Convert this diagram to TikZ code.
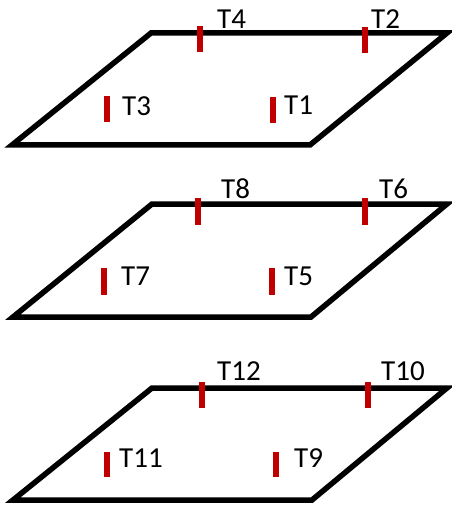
\documentclass[tikz,border=0pt]{standalone}
\usepackage{fontspec}
\setmainfont{Carlito}
\definecolor{tickred}{RGB}{192,0,0}
\begin{document}
\begin{tikzpicture}[x=1bp,y=-1bp,
  plate/.style={draw=black,line width=5.5bp,line join=miter},
  sensor/.style={draw=tickred,line width=5.5bp},
  lbl/.style={anchor=west,inner sep=0pt,font=\fontsize{29bp}{33bp}\selectfont}]
\useasboundingbox (0,0) rectangle (452,512);
% panel 1
\coordinate (a1) at (151,33); \coordinate (b1) at (447,33);
\coordinate (c1) at (310,145); \coordinate (d1) at (12,145);
\draw[plate] (a1) -- (b1) -- (c1) -- (d1) -- cycle;
\coordinate (t4a) at (200,26); \coordinate (t4b) at (200,52);
\coordinate (t2a) at (365,27); \coordinate (t2b) at (365,53);
\coordinate (t3a) at (107,96); \coordinate (t3b) at (107,122);
\coordinate (t1a) at (273,97); \coordinate (t1b) at (273,123);
\draw[sensor] (t4a) -- (t4b);
\draw[sensor] (t2a) -- (t2b);
\draw[sensor] (t3a) -- (t3b);
\draw[sensor] (t1a) -- (t1b);
\node[lbl] (l4) at (217,19) {T4};
\node[lbl] (l2) at (371,19) {T2};
\node[lbl] (l3) at (122,106) {T3};
\node[lbl] (l1) at (284,105) {T1};
% panel 2
\coordinate (a2) at (152,204); \coordinate (b2) at (447,204);
\coordinate (c2) at (311,317); \coordinate (d2) at (13,317);
\draw[plate] (a2) -- (b2) -- (c2) -- (d2) -- cycle;
\coordinate (t8a) at (198,198); \coordinate (t8b) at (198,225);
\coordinate (t6a) at (365,198); \coordinate (t6b) at (365,225);
\coordinate (t7a) at (104,268); \coordinate (t7b) at (104,295);
\coordinate (t5a) at (272,268); \coordinate (t5b) at (272,295);
\draw[sensor] (t8a) -- (t8b);
\draw[sensor] (t6a) -- (t6b);
\draw[sensor] (t7a) -- (t7b);
\draw[sensor] (t5a) -- (t5b);
\node[lbl] (l8) at (221,189) {T8};
\node[lbl] (l6) at (379,189) {T6};
\node[lbl] (l7) at (121,276) {T7};
\node[lbl] (l5) at (284,276) {T5};
% panel 3
\coordinate (a3) at (152,388); \coordinate (b3) at (447,388);
\coordinate (c3) at (312,500); \coordinate (d3) at (13,500);
\draw[plate] (a3) -- (b3) -- (c3) -- (d3) -- cycle;
\coordinate (t12a) at (202,382); \coordinate (t12b) at (202,408);
\coordinate (t10a) at (368,382); \coordinate (t10b) at (368,408);
\coordinate (t11a) at (107,452); \coordinate (t11b) at (107,477);
\coordinate (t9a) at (276,452); \coordinate (t9b) at (276,477);
\draw[sensor] (t12a) -- (t12b);
\draw[sensor] (t10a) -- (t10b);
\draw[sensor] (t11a) -- (t11b);
\draw[sensor] (t9a) -- (t9b);
\node[lbl] (l12) at (217,371) {T12};
\node[lbl] (l10) at (381,371) {T10};
\node[lbl] (l11) at (119,458) {T11};
\node[lbl] (l9) at (294,458) {T9};
\end{tikzpicture}
\end{document}
